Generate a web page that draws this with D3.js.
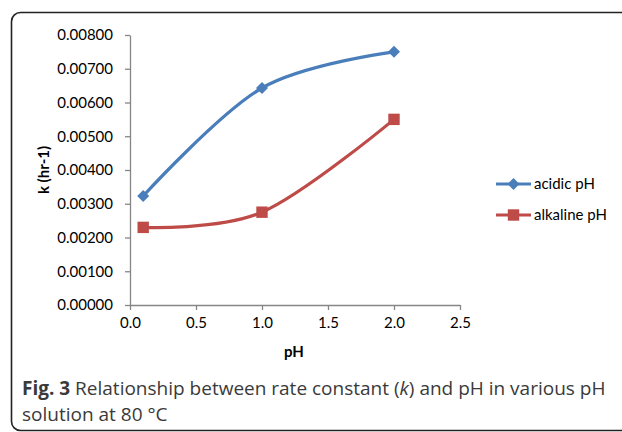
<!DOCTYPE html>
<html>
<head>
<meta charset="utf-8">
<script src="https://cdn.jsdelivr.net/npm/d3@7"></script>
<style>
  body { margin: 0; background: #fff; }
  svg { display: block; }
</style>
</head>
<body>
<div id="chart"></div>
<script>
// data
var phValues = [0.1, 1.0, 2.0];
var acidicK = [0.00323, 0.00643, 0.00750];
var alkalineK = [0.00230, 0.00275, 0.00550];
var seriesNames = ["acidic pH", "alkaline pH"];
var xTicks = [0, 0.5, 1, 1.5, 2, 2.5];
var yTicks = [0, 0.001, 0.002, 0.003, 0.004, 0.005, 0.006, 0.007, 0.008];

var W = 622, H = 432;
var svg = d3.select("#chart").append("svg")
    .attr("width", W)
    .attr("height", H);

// rounded frame around the figure (runs off right edge)
svg.append("rect")
    .attr("x", 11.5).attr("y", 12.5)
    .attr("width", 700).attr("height", 418)
    .attr("rx", 9).attr("ry", 9)
    .attr("fill", "none")
    .attr("stroke", "#222")
    .attr("stroke-width", 1.6);

// plot area
var x = d3.scaleLinear().domain([0, 2.5]).range([130, 460]);
var y = d3.scaleLinear().domain([0, 0.008]).range([305, 35]);

var axisColor = "#868686";
var tickFont = "Lato, 'Liberation Sans', sans-serif";

var xAxis = svg.append("g")
    .attr("transform", "translate(0," + y(0) + ")")
    .call(d3.axisBottom(x).tickValues(xTicks).tickFormat(d3.format(".1f")).tickSizeInner(5).tickSizeOuter(0).tickPadding(7));

var yAxis = svg.append("g")
    .attr("transform", "translate(" + x(0) + ",0)")
    .call(d3.axisLeft(y).tickValues(yTicks).tickFormat(d3.format(".5f")).tickSizeInner(5).tickSizeOuter(0).tickPadding(12));

[xAxis, yAxis].forEach(function (a) {
  a.select(".domain").attr("stroke", axisColor).attr("stroke-width", 1.3);
  a.selectAll(".tick line").attr("stroke", axisColor).attr("stroke-width", 1.3);
  a.selectAll(".tick text")
    .attr("fill", "#000")
    .style("font-family", tickFont)
    .style("font-size", "15px");
});

// axis titles
svg.append("text")
    .attr("x", 294).attr("y", 357)
    .attr("text-anchor", "middle")
    .style("font-family", tickFont)
    .style("font-size", "15px")
    .style("font-weight", "bold")
    .text("pH");

svg.append("text")
    .attr("transform", "translate(49,170) rotate(-90)")
    .attr("text-anchor", "middle")
    .style("font-family", tickFont)
    .style("font-size", "15px")
    .style("font-weight", "bold")
    .text("k (hr-1)");

// series: diamond = square turned 45 degrees
var series = [
  { name: seriesNames[0], values: acidicK, color: "#4A7EBB", symbol: d3.symbolSquare, size: 72, rot: 45 },
  { name: seriesNames[1], values: alkalineK, color: "#BE4B48", symbol: d3.symbolSquare, size: 130, rot: 0 }
];

var line = d3.line()
    .x(function (d) { return x(d[0]); })
    .y(function (d) { return y(d[1]); })
    .curve(d3.curveCatmullRom.alpha(0));

series.forEach(function (s) {
  var pts = phValues.map(function (p, i) { return [p, s.values[i]]; });
  svg.append("path")
      .datum(pts)
      .attr("fill", "none")
      .attr("stroke", s.color)
      .attr("stroke-width", 3.2)
      .attr("d", line);
  svg.selectAll(null)
      .data(pts)
      .enter().append("path")
      .attr("transform", function (d) { return "translate(" + x(d[0]) + "," + y(d[1]) + ") rotate(" + s.rot + ")"; })
      .attr("d", d3.symbol().type(s.symbol).size(s.size))
      .attr("fill", s.color);
});

// legend
var legend = svg.append("g");
series.forEach(function (s, i) {
  var ly = 184 + i * 31;
  legend.append("line")
      .attr("x1", 496).attr("x2", 531)
      .attr("y1", ly).attr("y2", ly)
      .attr("stroke", s.color)
      .attr("stroke-width", 3.2);
  legend.append("path")
      .attr("transform", "translate(513.5," + ly + ") rotate(" + s.rot + ")")
      .attr("d", d3.symbol().type(s.symbol).size(s.size))
      .attr("fill", s.color);
  legend.append("text")
      .attr("x", 534).attr("y", ly + 5)
      .style("font-family", tickFont)
      .style("font-size", "15px")
      .text(s.name);
});

// caption
var capFont = "'Open Sans', 'Noto Sans', sans-serif";
var cap = svg.append("text")
    .attr("x", 22).attr("y", 395)
    .style("font-family", capFont)
    .style("font-size", "19px")
    .attr("fill", "#3a3a3a");
cap.append("tspan").style("font-weight", "bold").text("Fig. 3");
cap.append("tspan").text(" Relationship between rate constant (");
cap.append("tspan").style("font-style", "italic").text("k");
cap.append("tspan").text(") and pH in various pH");

svg.append("text")
    .attr("x", 22).attr("y", 421)
    .style("font-family", capFont)
    .style("font-size", "19px")
    .attr("fill", "#3a3a3a")
    .text("solution at 80 °C");
</script>
</body>
</html>
